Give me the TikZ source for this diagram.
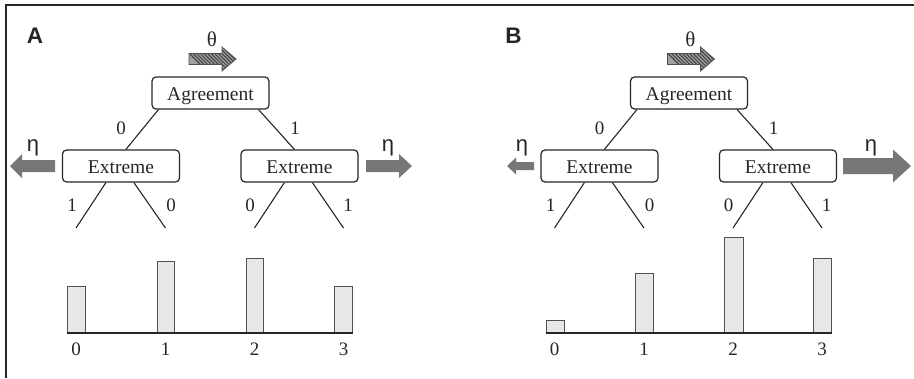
\documentclass[tikz,border=0pt]{standalone}
\usepackage{fontspec}
\setmainfont{Liberation Serif}
\newfontfamily\labelsans{Liberation Sans}
\definecolor{ink}{HTML}{262626}
\definecolor{arrowgrey}{HTML}{777777}
\definecolor{barfill}{HTML}{E7E7E5}
\definecolor{hatchfill}{HTML}{A0A0A0}

% block arrow: tail x, head base x, tip x, centre y, half body, half head
\newcommand\blockarrowpath[6]{(#1,{#4-#5}) -- (#2,{#4-#5}) -- (#2,{#4-#6}) -- (#3,#4)
  -- (#2,{#4+#6}) -- (#2,{#4+#5}) -- (#1,{#4+#5}) -- cycle}

% tree with the hatched theta arrow, shared by both panels
\newcommand\treepanel[2]{%
  \node[panellabel] (#1lab) at (35,36) {#2};
  \node[greek] (#1theta) at (212,39) {θ};
  \fill[hatchfill] \blockarrowpath{189}{222}{236}{59}{5.5}{12};
  \begin{scope}
    \clip \blockarrowpath{189}{222}{236}{59}{5.5}{12};
    \foreach \i in {0,...,14} \draw[hatch] ({181+3.6*\i},45) -- ++(28,28);
  \end{scope}
  \draw[line width=0.8pt, draw=ink!80] \blockarrowpath{189}{222}{236}{59}{5.5}{12};
  \node[box] (#1ag) at (210.5,93) {Agreement};
  \node[box] (#1exl) at (121,166) {Extreme};
  \node[box] (#1exr) at (299.5,166) {Extreme};
  \draw[edge] ([xshift=7pt]#1ag.south west) -- ([xshift=64pt]#1exl.north west);
  \draw[edge] ([xshift=-11pt]#1ag.south east) -- ([xshift=54pt]#1exr.north west);
  \node[num] (#1e0) at (121,128) {0};
  \node[num] (#1e1) at (295,128) {1};
  \coordinate (#1leaf0) at (76,228);
  \coordinate (#1leaf1) at (165.5,228);
  \coordinate (#1leaf2) at (254.5,228);
  \coordinate (#1leaf3) at (343.5,228);
  \draw[edge] ([xshift=44pt]#1exl.south west) -- (#1leaf0);
  \draw[edge] ([xshift=72pt]#1exl.south west) -- (#1leaf1);
  \draw[edge] ([xshift=44pt]#1exr.south west) -- (#1leaf2);
  \draw[edge] ([xshift=72pt]#1exr.south west) -- (#1leaf3);
  \node[num] (#1l0) at (72,205) {1};
  \node[num] (#1l1) at (171,205) {0};
  \node[num] (#1l2) at (250,205) {0};
  \node[num] (#1l3) at (348,205) {1};
  \node[num] (#1x0) at (76,349) {0};
  \node[num] (#1x1) at (165.5,349) {1};
  \node[num] (#1x2) at (254.5,349) {2};
  \node[num] (#1x3) at (343.5,349) {3};
}

\begin{document}
\begin{tikzpicture}[x=1pt, y=-1pt,
  box/.style={draw=ink, line width=1.2pt, rounded corners=4pt, fill=white,
    minimum width=117pt, minimum height=32pt, inner sep=0pt, text=ink,
    text height=16pt, text depth=2pt,
    font=\fontsize{19.5}{22}\selectfont},
  num/.style={inner sep=0pt, text=ink, font=\fontsize{19}{21}\selectfont},
  greek/.style={inner sep=0pt, text=ink, font=\fontsize{21}{23}\selectfont},
  eta/.style={inner sep=0pt, text=ink, font=\labelsans\fontsize{22}{24}\selectfont},
  panellabel/.style={inner sep=0pt, text=ink, font=\labelsans\bfseries\fontsize{22.5}{24}\selectfont},
  edge/.style={draw=ink, line width=1.1pt},
  hatch/.style={draw=ink!85, line width=1.1pt},
  blockarrow/.style={fill=arrowgrey},
  bar/.style={draw=ink!80, line width=0.9pt, fill=barfill},
  axis/.style={draw=ink, line width=2.2pt},
]
\useasboundingbox (0,0) rectangle (914,378);

% outer frame: top and left edges
\draw[line width=2.3pt, draw=ink] (6,378) -- (6,5) -- (914,5);

% ---- panel A ----
\treepanel{a}{A}
\fill[blockarrow] \blockarrowpath{55}{22}{10}{166}{6}{12};
\fill[blockarrow] \blockarrowpath{366}{399}{412}{166}{6}{12};
\node[eta] (aetal) at (33,148) {η};
\node[eta] (aetar) at (388,148) {η};
\draw[bar] (67,333) rectangle (85,286);
\draw[bar] (157,333) rectangle (174,261);
\draw[bar] (246,333) rectangle (263,258);
\draw[bar] (334,333) rectangle (352,286);
\draw[axis] (67,333) -- (353,333);

% ---- panel B ----
\begin{scope}[xshift=478.5pt]
\treepanel{b}{B}
\fill[blockarrow] \blockarrowpath{55.5}{37.5}{28.5}{166}{4}{8.5};
\fill[blockarrow] \blockarrowpath{364.5}{414.5}{432.5}{166}{8}{16.5};
\node[eta] (betal) at (43.5,148) {η};
\node[eta] (betar) at (392.5,148) {η};
\draw[bar] (67.5,333) rectangle (85.5,320);
\draw[bar] (156.5,333) rectangle (174.5,273);
\draw[bar] (245.5,333) rectangle (264.5,237);
\draw[bar] (334.5,333) rectangle (352.5,258);
\draw[axis] (67,333) -- (353,333);
\end{scope}
\end{tikzpicture}
\end{document}
